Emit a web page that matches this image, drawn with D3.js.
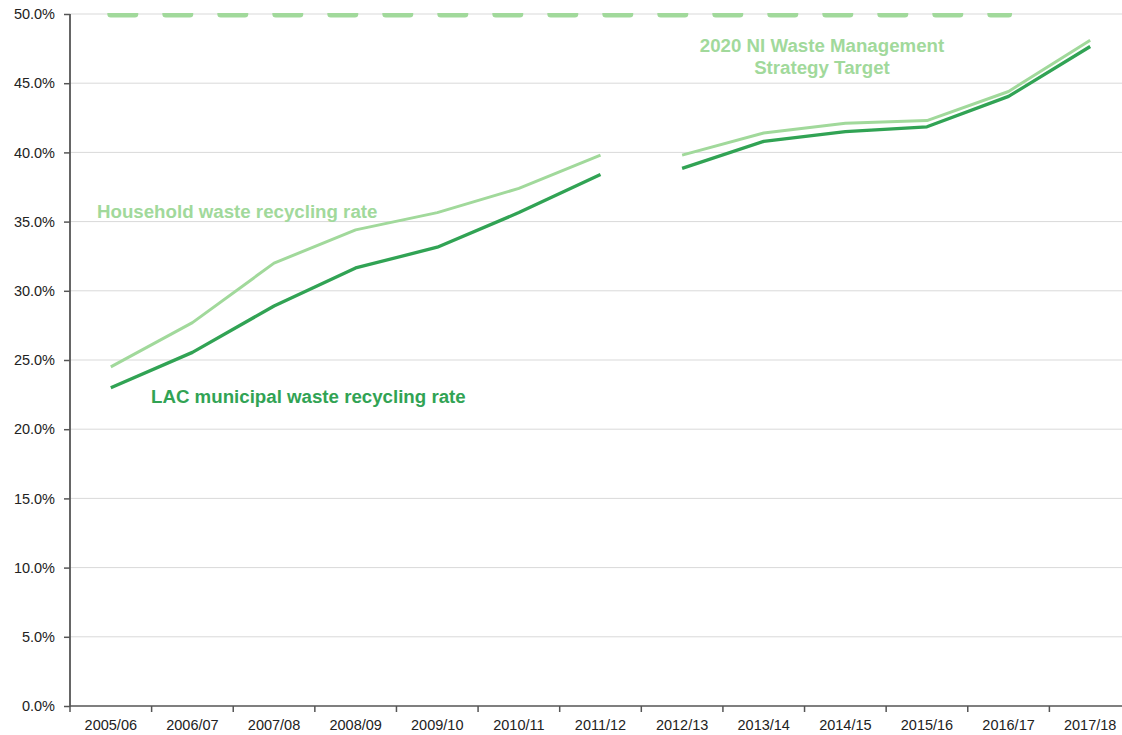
<!DOCTYPE html>
<html>
<head>
<meta charset="utf-8">
<script src="https://cdn.jsdelivr.net/npm/d3@7"></script>
<style>
  body { margin: 0; background: #fff; }
  text { font-family: "Liberation Sans", Arial, sans-serif; }
</style>
</head>
<body>
<div id="chart"></div>
<script>
// Recycling rates (%) by financial year
const years = ["2005/06", "2006/07", "2007/08", "2008/09", "2009/10", "2010/11", "2011/12",
  "2012/13", "2013/14", "2014/15", "2015/16", "2016/17", "2017/18"];
const household = [24.5, 27.7, 32.0, 34.4, 35.65, 37.4, 39.8, 39.8, 41.4, 42.1, 42.3, 44.4, 48.1];
const lacMunicipal = [23.0, 25.55, 28.9, 31.65, 33.15, 35.65, 38.4, 38.85, 40.8, 41.5, 41.85, 44.05, 47.65];
// series break (methodology change) between these two years
const breakAfter = "2011/12";
// 2020 target, drawn across these years
const targetYears = years.slice(0, 12);
const targetValue = 50;
const yTicks = [0, 5, 10, 15, 20, 25, 30, 35, 40, 45, 50];

const width = 1122, height = 735;
const margin = { top: 14, right: -9, bottom: 29, left: 70 };

const svg = d3.select("#chart")
  .append("svg")
  .attr("width", width)
  .attr("height", height);

const x = d3.scaleBand()
  .domain(years)
  .range([margin.left, width - margin.right])
  .padding(0);

const y = d3.scaleLinear()
  .domain([0, 50])
  .range([height - margin.bottom, margin.top]);

const cx = d => x(d) + x.bandwidth() / 2;

// gridlines
svg.append("g")
  .selectAll("line")
  .data(yTicks.filter(d => d > 0))
  .enter().append("line")
  .attr("x1", margin.left)
  .attr("x2", width)
  .attr("y1", d => y(d))
  .attr("y2", d => y(d))
  .attr("stroke", "#d9d9d9")
  .attr("stroke-width", 1);

// target line, clipped at the top of the plot
svg.append("clipPath")
  .attr("id", "plot-clip")
  .append("rect")
  .attr("x", margin.left)
  .attr("y", y(50) - 1)
  .attr("width", width - margin.left)
  .attr("height", y(0) - y(50) + 1);

svg.append("line")
  .attr("clip-path", "url(#plot-clip)")
  .attr("x1", cx(targetYears[0]))
  .attr("x2", cx(targetYears[targetYears.length - 1]))
  .attr("y1", y(targetValue))
  .attr("y2", y(targetValue))
  .attr("stroke", "#a1d99b")
  .attr("stroke-width", 7)
  .attr("stroke-linecap", "round")
  .attr("stroke-dasharray", "24,31");

// lines, split at the series break
const line = d3.line()
  .x(d => cx(d.year))
  .y(d => y(d.value));

const splitAt = years.indexOf(breakAfter) + 1;
function segments(values) {
  const pts = years.map((yr, i) => ({ year: yr, value: values[i] }));
  return [pts.slice(0, splitAt), pts.slice(splitAt)];
}

const series = [
  { values: household, color: "#a1d99b", width: 3 },
  { values: lacMunicipal, color: "#31a354", width: 3.3 }
];

series.forEach(s => {
  svg.append("g")
    .selectAll("path")
    .data(segments(s.values))
    .enter().append("path")
    .attr("fill", "none")
    .attr("stroke", s.color)
    .attr("stroke-width", s.width)
    .attr("stroke-linejoin", "round")
    .attr("d", line);
});

// y axis
const yAxis = svg.append("g")
  .attr("transform", "translate(" + margin.left + ",0)")
  .call(d3.axisLeft(y).tickValues(yTicks).tickSize(6).tickPadding(9)
    .tickFormat(d => d.toFixed(1) + "%"));
yAxis.select(".domain").remove();
yAxis.selectAll(".tick line").attr("stroke", "#555").attr("stroke-width", 1.5);
yAxis.selectAll("text")
  .attr("fill", "#222")
  .style("font-size", "14.5px");

svg.append("line")
  .attr("x1", margin.left).attr("x2", margin.left)
  .attr("y1", y(50)).attr("y2", y(0) + 0.75)
  .attr("stroke", "#555").attr("stroke-width", 1.8);

// x axis
svg.append("line")
  .attr("x1", margin.left).attr("x2", width)
  .attr("y1", y(0)).attr("y2", y(0))
  .attr("stroke", "#555").attr("stroke-width", 1.5);

svg.append("g")
  .selectAll("line")
  .data(years)
  .enter().append("line")
  .attr("x1", d => x(d))
  .attr("x2", d => x(d))
  .attr("y1", y(0))
  .attr("y2", y(0) + 6)
  .attr("stroke", "#555")
  .attr("stroke-width", 1.5);

svg.append("g")
  .selectAll("text")
  .data(years)
  .enter().append("text")
  .attr("x", d => cx(d))
  .attr("y", y(0) + 24)
  .attr("text-anchor", "middle")
  .attr("fill", "#222")
  .style("font-size", "14.5px")
  .text(d => d);

// series labels
svg.append("text")
  .attr("x", 97)
  .attr("y", 218)
  .attr("fill", "#a1d99b")
  .style("font-size", "18.7px")
  .style("font-weight", "bold")
  .text("Household waste recycling rate");

svg.append("text")
  .attr("x", 151)
  .attr("y", 403)
  .attr("fill", "#31a354")
  .style("font-size", "18.7px")
  .style("font-weight", "bold")
  .text("LAC municipal waste recycling rate");

svg.append("text")
  .attr("x", 822)
  .attr("y", 52)
  .attr("text-anchor", "middle")
  .attr("fill", "#a1d99b")
  .style("font-size", "18.7px")
  .style("font-weight", "bold")
  .selectAll("tspan")
  .data(["2020 NI Waste Management", "Strategy Target"])
  .enter().append("tspan")
  .attr("x", 822)
  .attr("dy", (d, i) => i ? 22 : 0)
  .text(d => d);
</script>
</body>
</html>
